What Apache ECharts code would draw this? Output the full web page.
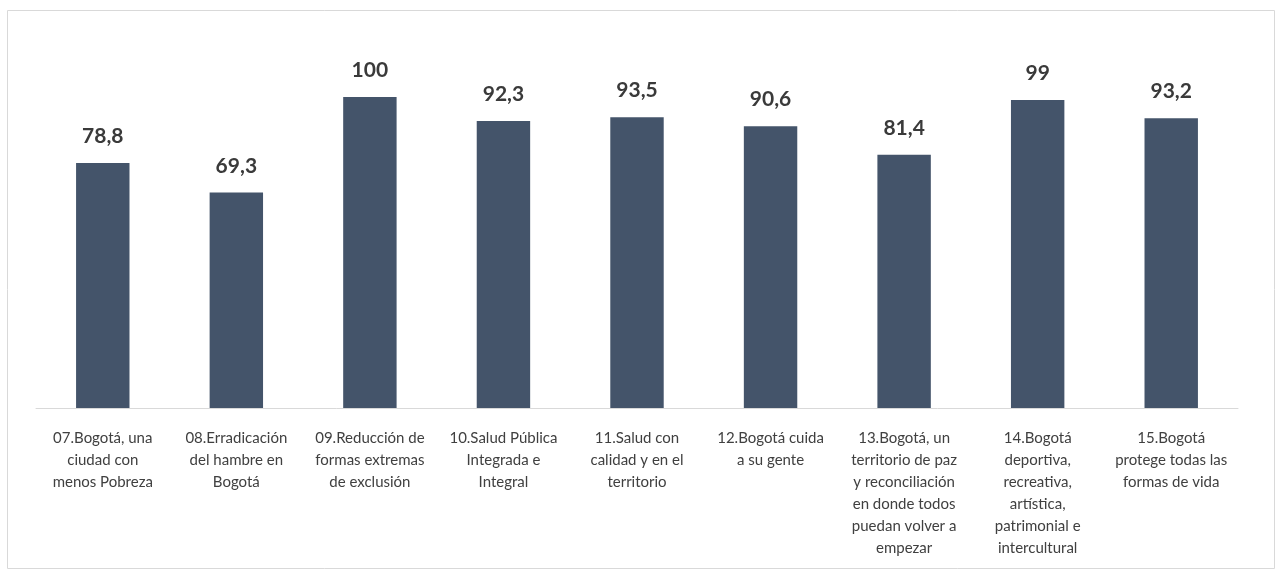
<!DOCTYPE html>
<html>
<head>
<meta charset="utf-8">
<script src="https://cdn.jsdelivr.net/npm/echarts@6/dist/echarts.min.js"></script>
<style>
  html, body { margin: 0; padding: 0; background: #fff; }
  #chart { width: 1281px; height: 575px; }
</style>
</head>
<body>
<div id="chart"></div>
<script>
// categorías (ejes) y valores
const categories = [
  '07.Bogotá, una\nciudad con\nmenos Pobreza',
  '08.Erradicación\ndel hambre en\nBogotá',
  '09.Reducción de\nformas extremas\nde exclusión',
  '10.Salud Pública\nIntegrada e\nIntegral',
  '11.Salud con\ncalidad y en el\nterritorio',
  '12.Bogotá cuida\na su gente',
  '13.Bogotá, un\nterritorio de paz\ny reconciliación\nen donde todos\npuedan volver a\nempezar',
  '14.Bogotá\ndeportiva,\nrecreativa,\nartística,\npatrimonial e\nintercultural',
  '15.Bogotá\nprotege todas las\nformas de vida'
]
const values = [78.8, 69.3, 100, 92.3, 93.5, 90.6, 81.4, 99, 93.2]

const chart = echarts.init(document.getElementById('chart'))

const option = {
  animation: false,
  graphic: [
    {
      // marco del gráfico
      type: 'rect',
      shape: { x: 7.5, y: 10.5, width: 1267, height: 558 },
      style: { fill: 'none', stroke: '#d9d9d9', lineWidth: 1 },
      silent: true
    }
  ],
  grid: {
    left: 36,
    right: 43,
    top: 97,
    bottom: 167,
    containLabel: false
  },
  xAxis: {
    type: 'category',
    data: categories,
    axisLine: { lineStyle: { color: '#d9d9d9', width: 1 } },
    axisTick: { show: false },
    axisLabel: {
      interval: 0,
      margin: 19,
      color: '#404040',
      fontFamily: 'Lato',
      fontSize: 15,
      lineHeight: 22,
      align: 'center'
    }
  },
  yAxis: {
    type: 'value',
    min: 0,
    max: 100,
    show: false,
    splitLine: { show: false }
  },
  series: [
    {
      type: 'bar',
      data: values,
      barWidth: '40%',
      itemStyle: { color: '#44546a' },
      label: {
        show: true,
        position: 'top',
        distance: 16,
        color: '#3a3a3a',
        fontFamily: 'Lato',
        fontWeight: 'bold',
        fontSize: 21,
        formatter: p => String(p.value).replace('.', ',')
      }
    }
  ]
}

chart.setOption(option)
</script>
</body>
</html>
